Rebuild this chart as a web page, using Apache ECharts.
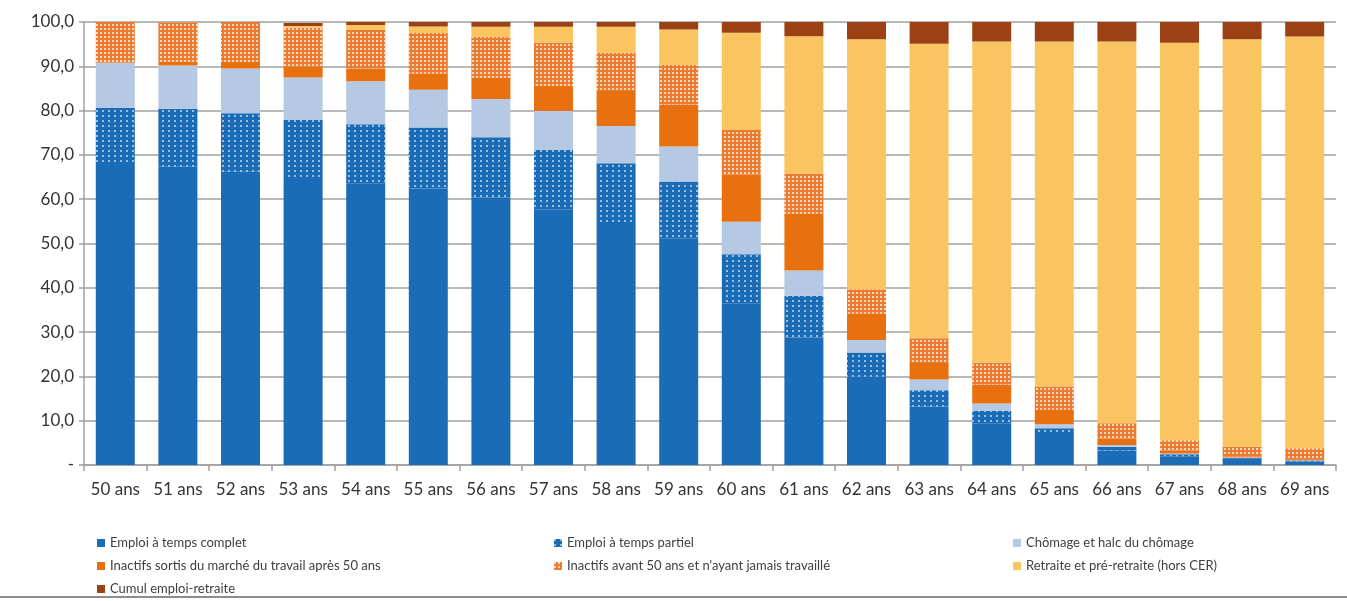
<!DOCTYPE html>
<html>
<head>
<meta charset="utf-8">
<script src="https://cdn.jsdelivr.net/npm/echarts@6/dist/echarts.min.js"></script>
<style>
  html, body { margin: 0; padding: 0; background: #ffffff; }
  #chart { width: 1347px; height: 601px; }
</style>
</head>
<body>
<div id="chart"></div>
<script>
// Situation sur le marché du travail par âge (en %)
const categories = ['50 ans','51 ans','52 ans','53 ans','54 ans','55 ans','56 ans','57 ans','58 ans','59 ans',
  '60 ans','61 ans','62 ans','63 ans','64 ans','65 ans','66 ans','67 ans','68 ans','69 ans'];

const emploiComplet = [67.7, 67.3, 66.2, 64.8, 63.6, 62.4, 60.4, 57.6, 54.4, 51.2, 36.5, 28.8, 19.9, 13.2, 9.4, 7.2, 3.3, 2.0, 1.4, 0.8];
const emploiPartiel = [12.9, 13.1, 13.2, 13.1, 13.3, 13.8, 13.6, 13.5, 13.7, 12.8, 11.1, 9.4, 5.5, 3.7, 2.8, 1.1, 0.8, 0.4, 0.2, 0.2];
const chomage       = [10.2, 9.8, 10.1, 9.6, 9.7, 8.5, 8.6, 8.8, 8.4, 7.9, 7.3, 5.7, 2.8, 2.4, 1.7, 0.9, 0.4, 0.2, 0.1, 0.1];
const inactifsApres = [0.0, 0.9, 1.5, 2.4, 2.9, 3.7, 4.9, 5.7, 7.9, 9.4, 10.6, 12.9, 6.0, 3.7, 4.2, 3.2, 1.5, 0.7, 0.3, 0.2];
const inactifsAvant = [9.2, 8.8, 9.0, 8.8, 8.8, 9.1, 9.1, 9.7, 8.6, 9.0, 10.1, 9.0, 5.5, 5.6, 5.0, 5.3, 3.4, 2.3, 2.1, 2.5];
const retraite      = [0.0, 0.0, 0.0, 0.4, 1.0, 1.5, 2.3, 3.6, 5.9, 8.0, 22.0, 31.0, 56.4, 66.5, 72.5, 77.9, 86.2, 89.7, 92.0, 92.9];
const cumul         = [0.0, 0.0, 0.0, 0.7, 0.7, 1.0, 1.1, 1.1, 1.1, 1.7, 2.4, 3.2, 3.9, 4.9, 4.4, 4.4, 4.4, 4.7, 3.9, 3.3];

const yTicks = { min: 0, max: 100, interval: 10 };

const seriesNames = [
  'Emploi à temps complet',
  'Emploi à temps partiel',
  'Chômage et halc du chômage',
  'Inactifs sortis du marché du travail après 50 ans',
  "Inactifs avant 50 ans et n'ayant jamais travaillé",
  'Retraite et pré-retraite (hors CER)',
  'Cumul emploi-retraite'
];

const FONT = 'Lato, "Liberation Sans", sans-serif';

// dotted fills for the two patterned categories
const dotsPartiel = {
  symbol: 'circle', symbolSize: 1, color: 'rgba(255,255,255,0.75)',
  dashArrayX: [2, 4], dashArrayY: [2, 3]
};
const dotsAvant = {
  symbol: 'circle', symbolSize: 1, color: 'rgba(255,255,255,0.95)',
  dashArrayX: [2, 2], dashArrayY: [2, 2]
};

function bar(name, data, color, decal) {
  const itemStyle = { color: color };
  if (decal) itemStyle.decal = decal;
  return {
    name: name, type: 'bar', stack: 'total', data: data,
    barWidth: 39, itemStyle: itemStyle,
    emphasis: { disabled: true }
  };
}

const legendText = { fontFamily: FONT, fontSize: 13, color: '#404040', lineHeight: 14 };
function legend(left, names) {
  return {
    orient: 'vertical', left: left, top: 531, itemGap: 9,
    itemWidth: 8, itemHeight: 8, icon: 'rect', selectedMode: false,
    textStyle: legendText, data: names
  };
}

const chart = echarts.init(document.getElementById('chart'), null, { renderer: 'canvas' });
chart.setOption({
  animation: false,
  backgroundColor: '#ffffff',
  grid: { left: 84, right: 11, top: 22, bottom: 136, containLabel: false },
  legend: [
    legend(92, [seriesNames[0], seriesNames[3], seriesNames[6]]),
    legend(549, [seriesNames[1], seriesNames[4]]),
    legend(1008, [seriesNames[2], seriesNames[5]])
  ],
  xAxis: {
    type: 'category', data: categories,
    axisLine: { lineStyle: { color: '#a0a0a0', width: 1.5 } },
    axisTick: { show: true, length: 6, lineStyle: { color: '#a0a0a0', width: 1.5 } },
    axisLabel: { fontFamily: FONT, fontSize: 17, color: '#333333', margin: 16, interval: 0 }
  },
  yAxis: {
    type: 'value', min: yTicks.min, max: yTicks.max, interval: yTicks.interval,
    axisLine: { show: true, lineStyle: { color: '#a0a0a0', width: 1.5 } },
    axisTick: { show: true, length: 5, lineStyle: { color: '#a0a0a0', width: 1.5 } },
    splitLine: { lineStyle: { color: '#a0a0a0', width: 1.5 } },
    axisLabel: {
      fontFamily: FONT, fontSize: 17, color: '#333333', margin: 10,
      formatter: function (v) { return v === 0 ? '-' : v.toFixed(1).replace('.', ','); }
    }
  },
  graphic: [{
    type: 'line', shape: { x1: 0, y1: 597, x2: 1347, y2: 597 },
    style: { stroke: '#8c8c8c', lineWidth: 2 }, silent: true
  }],
  series: [
    bar(seriesNames[0], emploiComplet, '#1a6cb7'),
    bar(seriesNames[1], emploiPartiel, '#1a6cb7', dotsPartiel),
    bar(seriesNames[2], chomage, '#b6c9e4'),
    bar(seriesNames[3], inactifsApres, '#e8700f'),
    bar(seriesNames[4], inactifsAvant, '#ec7b30', dotsAvant),
    bar(seriesNames[5], retraite, '#fac560'),
    bar(seriesNames[6], cumul, '#9c4113')
  ]
});
</script>
</body>
</html>
